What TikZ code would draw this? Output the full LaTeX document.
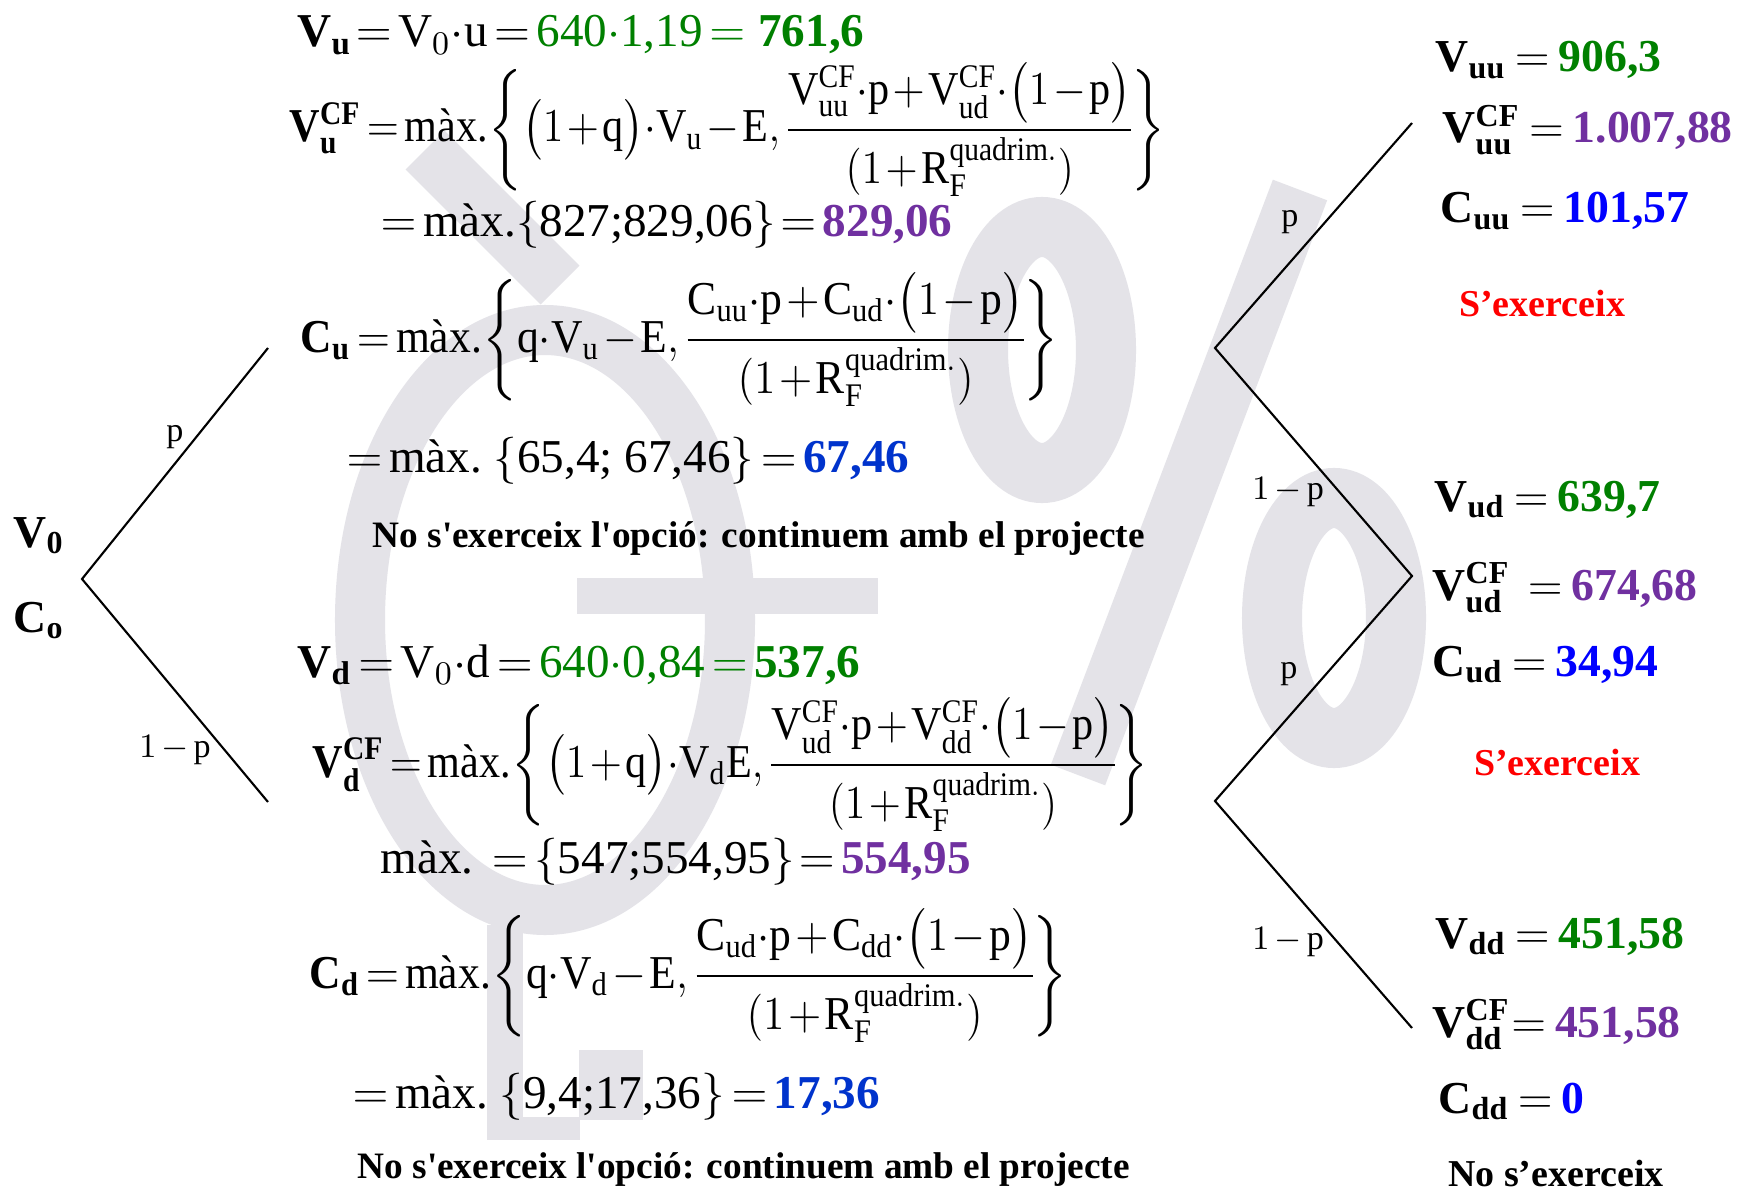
\documentclass[tikz,border=0pt]{standalone}
\usepackage{fix-cm}
\usepackage{amsmath}
\usepackage{graphicx}
\usepackage{fontspec}
\setmainfont{Liberation Serif}
\usetikzlibrary{positioning}
\definecolor{valgreen}{RGB}{0,128,0}
\definecolor{cfpurple}{RGB}{112,48,160}
\definecolor{optblue}{RGB}{0,51,204}
\definecolor{leafblue}{RGB}{0,0,255}
\definecolor{exred}{RGB}{255,0,0}
\definecolor{wmgrey}{RGB}{228,227,232}
\newcommand{\mx}{\text{màx.}}
\newcommand{\num}[1]{\text{#1}}
\newcommand{\bnum}[1]{\text{\bfseries #1}}
\newcommand{\rfq}{(1+\mathrm{R}_{\mathrm{F}}^{\mathrm{quadrim.}})}
\newcommand{\bsym}[2]{\mathbf{#1}_{\mathbf{#2}}}
\newcommand{\bcf}[2]{\mathbf{#1}^{\mathbf{CF}}_{\mathbf{#2}}}
\newcommand{\rsym}[2]{\mathrm{#1}_{\mathrm{#2}}}
\newcommand{\rcf}[2]{\mathrm{#1}^{\mathrm{CF}}_{\mathrm{#2}}}
\newcommand{\squeeze}[2]{\scalebox{#1}[1]{#2}}
\newcommand{\tight}{\thinmuskip=1mu\relax\medmuskip=1.5mu\relax\thickmuskip=2.5mu\relax\nulldelimiterspace=0pt\relax}
\newcommand{\leafsp}{\thickmuskip=3.5mu\relax}
\newcommand{\probsp}{\medmuskip=2.5mu\relax}
\newcommand{\noex}{No s\textquotesingle exerceix l\textquotesingle opció: continuem amb el projecte}

\begin{document}
\begin{tikzpicture}[x=0.01cm, y=-0.01cm,
    eq/.style={inner sep=0pt, anchor=base west, font=\fontsize{13.4}{16}\selectfont\tight},
    verdict/.style={inner sep=0pt, anchor=base west, font=\fontsize{10.6}{12}\selectfont\bfseries},
    leaf/.style={inner sep=0pt, anchor=base west, font=\fontsize{13}{16}\selectfont\bfseries\leafsp},
    note/.style={inner sep=0pt, anchor=base, font=\fontsize{10.8}{12}\selectfont\bfseries},
    prob/.style={inner sep=0pt, font=\fontsize{9.7}{12}\selectfont\probsp},
    branch/.style={line width=0.6pt},
    wm/.style={draw=wmgrey, line width=5.5mm}
]
\fill[white] (0,0) rectangle (1739,1188);
\useasboundingbox (0,0) rectangle (1739,1188);

% watermark
\draw[wm, line width=5mm] (545,620) ellipse [x radius=185, y radius=290];
\draw[wm] (425,150) -- (560,285);
\draw[wm, line width=3.5mm] (577,596) -- (878,596);
\draw[wm, line width=3.6mm] (505,925) -- (505,1140);
\fill[wmgrey] (579,1050) rectangle (643,1120);
\fill[wmgrey] (487,1117) rectangle (580,1140);
\draw[wm, line width=6mm] (1042,350) ellipse [x radius=64, y radius=123];
\draw[wm, line width=6mm] (1334,618) ellipse [x radius=62, y radius=120];
\draw[wm, line width=5.8mm] (1300,190) -- (1078,775);

% tree
\coordinate (root) at (82,579);
\coordinate (up) at (268,348);
\coordinate (dn) at (268,802);
\coordinate (nu) at (1215,348);
\coordinate (nuu) at (1412,123);
\coordinate (nud) at (1412,576);
\coordinate (nd) at (1215,801);
\coordinate (ndd) at (1412,1028);
\draw[branch] (up) -- (root) -- (dn);
\draw[branch] (nuu) -- (nu) -- (nud) -- (nd) -- (ndd);

\node[prob] (p1) at (175,437) {p};
\node[prob] (q1) at (175,750) {$1-\mathrm{p}$};
\node[prob] (p2) at (1290,222) {p};
\node[prob] (q2) at (1288,492) {$1-\mathrm{p}$};
\node[prob] (p3) at (1289,674) {p};
\node[prob] (q3) at (1288,942) {$1-\mathrm{p}$};

\node[leaf] (v0) at (13,547) {$\bsym{V}{0}$};
\node[leaf] (c0) at (13,632) {$\bsym{C}{o}$};

% node u
\node[eq] (vu) at (297,47) {$\bsym{V}{u}\!=\mathrm{V}_0{\cdot}\mathrm{u}=\textcolor{valgreen}{\num{640}{\cdot}\num{1,19}=\;\bnum{761,6}}$};
\node[eq] (vucf) at (289,142) {\squeeze{0.895}{$\bcf{V}{u}=\mx\biggl\{\bigl(1+\mathrm{q}\bigr){\cdot}\rsym{V}{u}-\mathrm{E},\;\dfrac{\rcf{V}{uu}{\cdot}\mathrm{p}+\rcf{V}{ud}{\cdot}\bigl(1-\mathrm{p}\bigr)}{\rfq}\biggr\}$}};
\node[eq] (vucfr) at (380,237) {$=\mx\{\num{827;829,06}\}\!=\textcolor{cfpurple}{\bnum{829,06}}$};
\node[eq] (cu) at (300,352) {\squeeze{0.925}{$\bsym{C}{u}=\mx\biggl\{\mathrm{q}{\cdot}\rsym{V}{u}-\mathrm{E},\;\dfrac{\rsym{C}{uu}{\cdot}\mathrm{p}+\rsym{C}{ud}{\cdot}\bigl(1-\mathrm{p}\bigr)}{\rfq}\biggr\}$}};
\node[eq] (cur) at (346,472) {$=\mx\ \{\num{65,4; 67,46}\}=\textcolor{optblue}{\bnum{67,46}}$};
\node[verdict] (nou) at (372,547) {\noex};

% node d
\node[eq] (vd) at (297,677) {$\bsym{V}{d}=\mathrm{V}_0{\cdot}\mathrm{d}=\textcolor{valgreen}{\num{640}{\cdot}\num{0,84}=\bnum{537,6}}$};
\node[eq] (vdcf) at (312,777) {\squeeze{0.895}{$\bcf{V}{d}=\mx\biggl\{\bigl(1+\mathrm{q}\bigr){\cdot}\rsym{V}{d}\mathrm{E},\;\dfrac{\rcf{V}{ud}{\cdot}\mathrm{p}+\rcf{V}{dd}{\cdot}\bigl(1-\mathrm{p}\bigr)}{\rfq}\biggr\}$}};
\node[eq] (vdcfr) at (380,873) {$\mx\ =\{\num{547;554,95}\}\!=\textcolor{cfpurple}{\bnum{554,95}}$};
\node[eq] (cd) at (309,988) {\squeeze{0.925}{$\bsym{C}{d}=\mx\biggl\{\mathrm{q}{\cdot}\rsym{V}{d}-\mathrm{E},\;\dfrac{\rsym{C}{ud}{\cdot}\mathrm{p}+\rsym{C}{dd}{\cdot}\bigl(1-\mathrm{p}\bigr)}{\rfq}\biggr\}$}};
\node[eq] (cdr) at (352,1108) {$=\mx\ \{\num{9,4;17,36}\}=\textcolor{optblue}{\bnum{17,36}}$};
\node[verdict] (nod) at (357,1178) {\noex};

% leaves
\node[leaf] (vuu) at (1435,72) {$\bsym{V}{uu}=\textcolor{valgreen}{\num{906,3}}$};
\node[leaf] (vuucf) at (1442,143) {$\bcf{V}{uu}=\textcolor{cfpurple}{\num{1.007,88}}$};
\node[leaf] (cuu) at (1440,223) {$\bsym{C}{uu}=\textcolor{leafblue}{\num{101,57}}$};
\node[note, exred] (exuu) at (1542,317) {S’exerceix};
\node[leaf] (vud) at (1434,511) {$\bsym{V}{ud}=\textcolor{valgreen}{\num{639,7}}$};
\node[leaf] (vudcf) at (1432,600) {$\bcf{V}{ud}\;=\textcolor{cfpurple}{\num{674,68}}$};
\node[leaf] (cud) at (1432,676) {$\bsym{C}{ud}=\textcolor{leafblue}{\num{34,94}}$};
\node[note, exred] (exud) at (1557,775) {S’exerceix};
\node[leaf] (vdd) at (1435,948) {$\bsym{V}{dd}=\textcolor{valgreen}{\num{451,58}}$};
\node[leaf] (vddcf) at (1432,1037) {$\bcf{V}{dd}\!=\textcolor{cfpurple}{\num{451,58}}$};
\node[leaf] (cdd) at (1438,1113) {$\bsym{C}{dd}=\textcolor{leafblue}{\num{0}}$};
\node[note] (exdd) at (1556,1186) {No s’exerceix};
\end{tikzpicture}
\end{document}
